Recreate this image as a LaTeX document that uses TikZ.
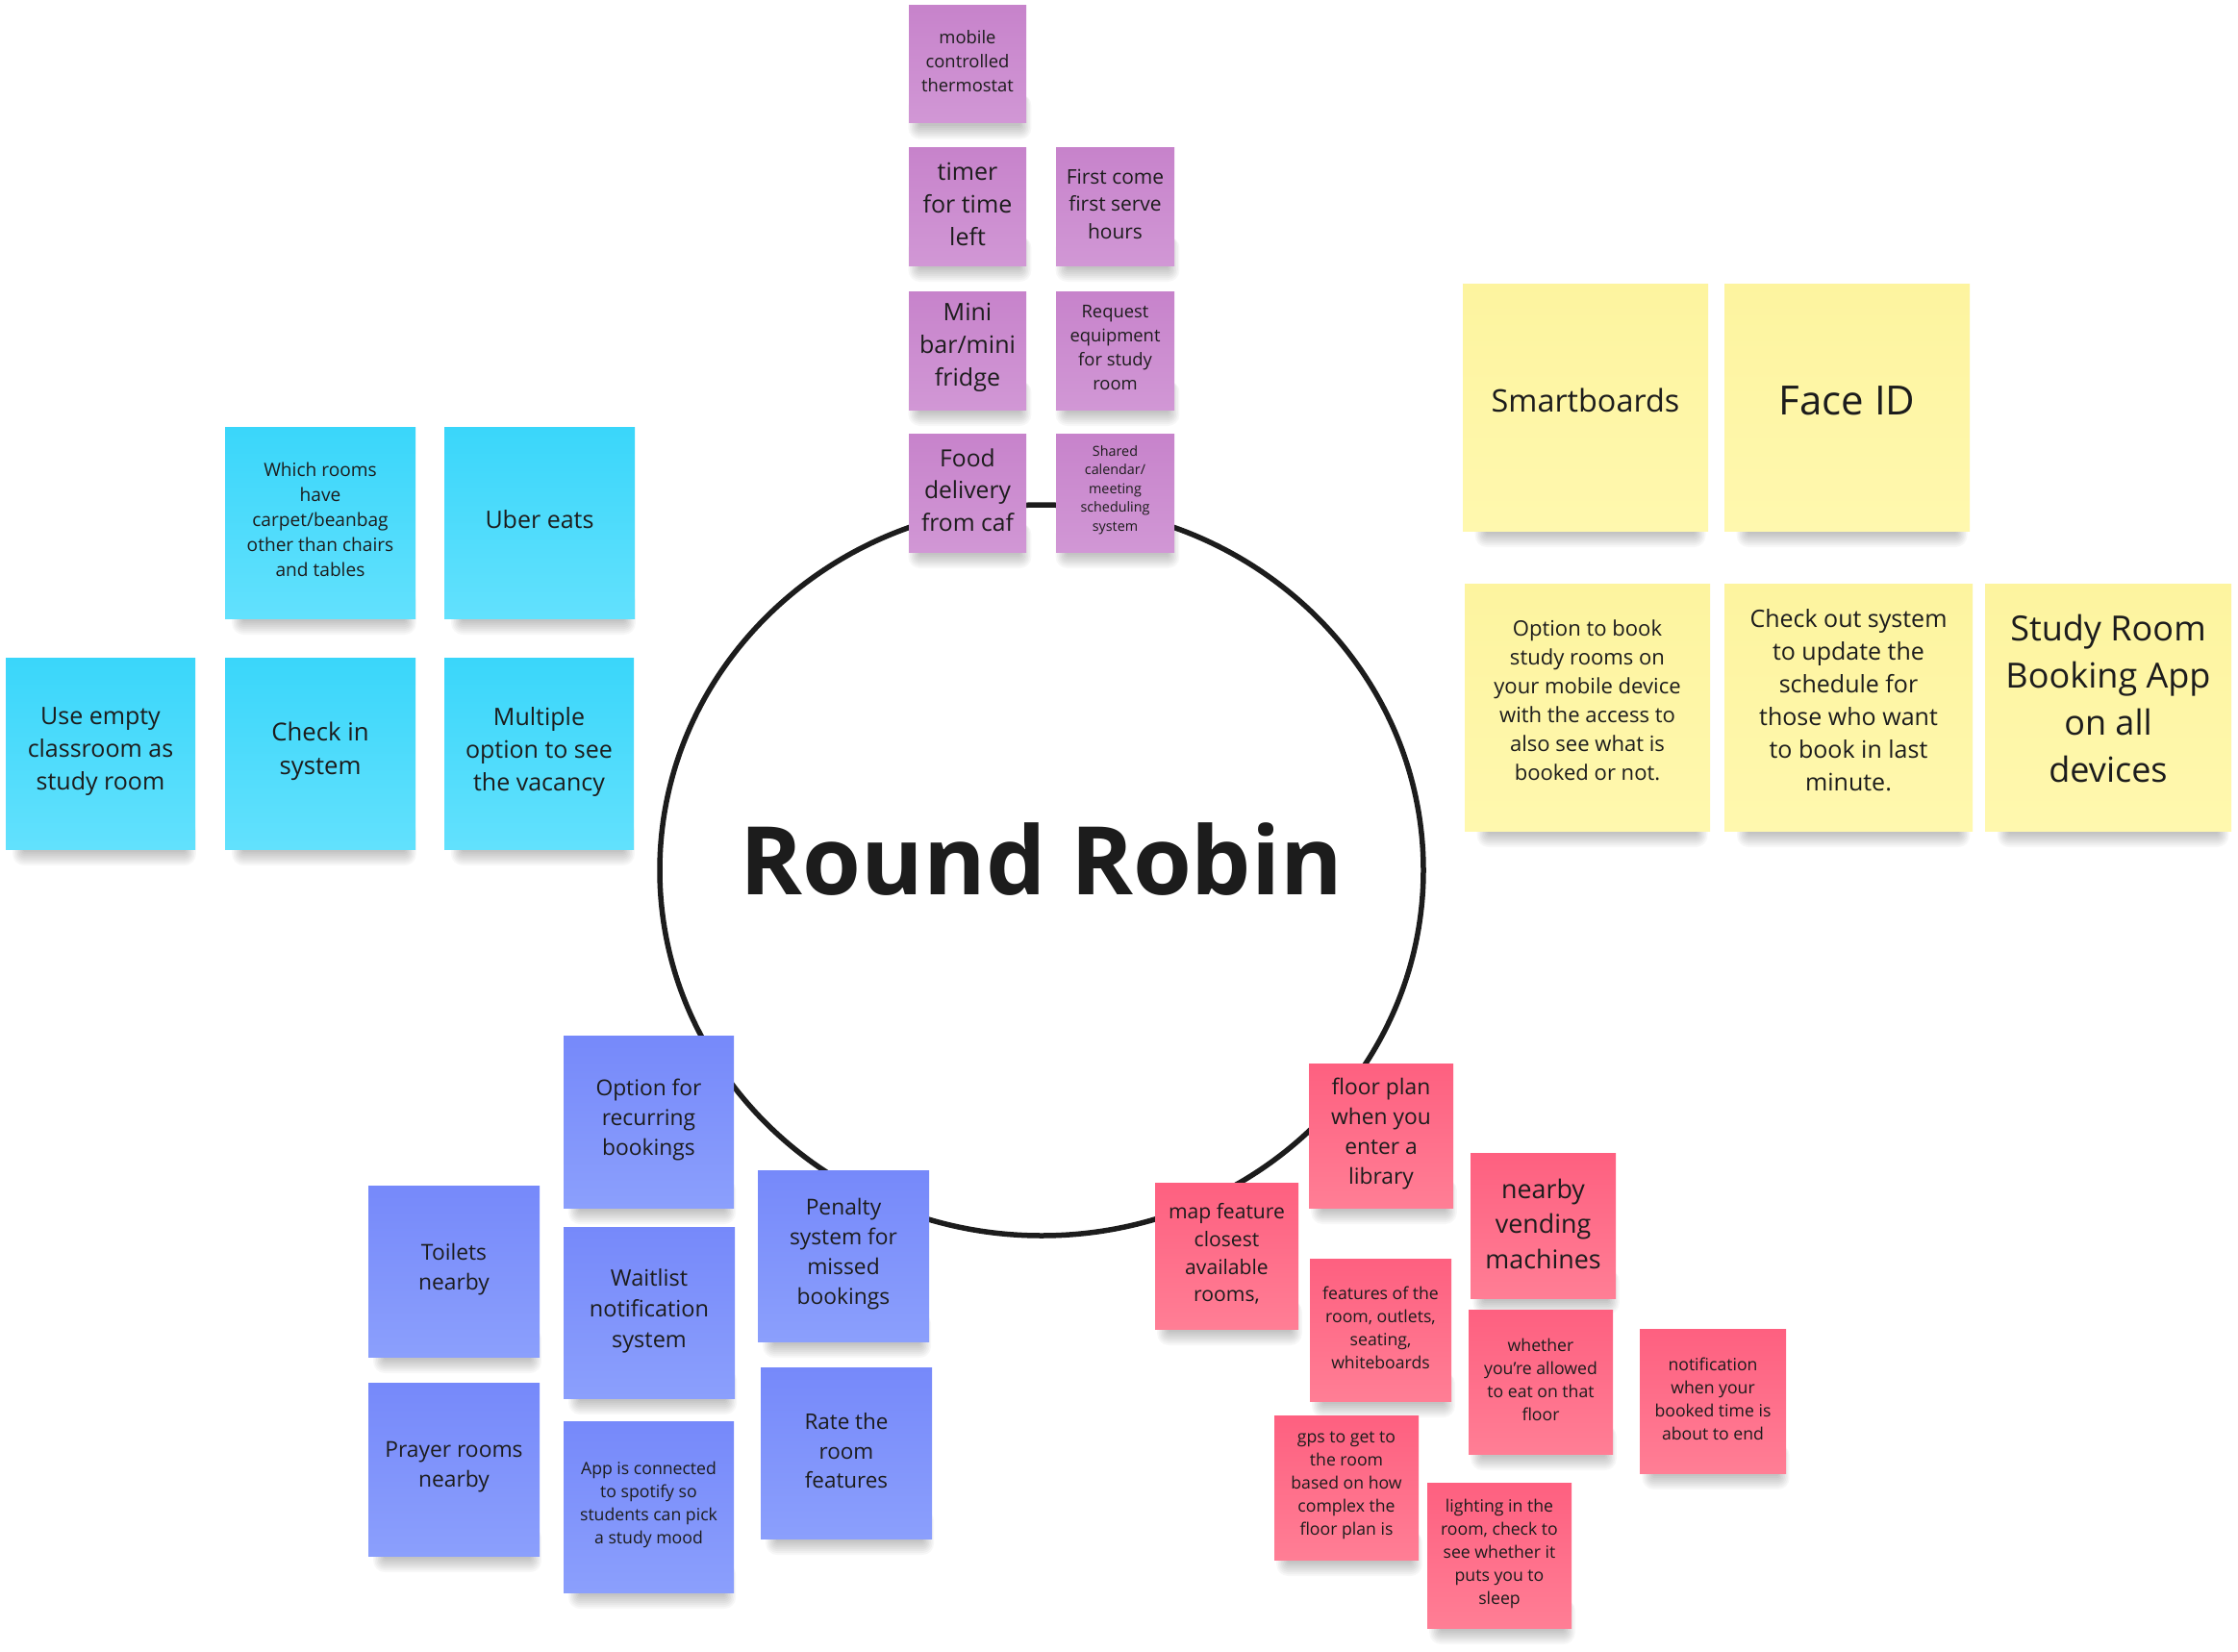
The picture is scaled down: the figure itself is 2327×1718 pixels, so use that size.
\documentclass[tikz,border=0pt]{standalone}
\usepackage{fontspec}
\setmainfont{Open Sans}
\usetikzlibrary{shapes.geometric}
\definecolor{ink}{HTML}{1C1C1C}
\definecolor{purpT}{HTML}{C783CB}
\definecolor{purpB}{HTML}{D197D5}
\definecolor{cyanT}{HTML}{3AD6FA}
\definecolor{cyanB}{HTML}{62E1FD}
\definecolor{yelT}{HTML}{FDF49F}
\definecolor{yelB}{HTML}{FFF8AE}
\definecolor{bluT}{HTML}{7689FA}
\definecolor{bluB}{HTML}{8B9FFC}
\definecolor{pinkT}{HTML}{FE6080}
\definecolor{pinkB}{HTML}{FF7E95}
\tikzset{
  note/.style={rectangle, inner sep=0pt, draw=none},
  pnote/.style={note, top color=purpT, bottom color=purpB},
  cnote/.style={note, top color=cyanT, bottom color=cyanB},
  ynote/.style={note, top color=yelT, bottom color=yelB},
  bnote/.style={note, top color=bluT, bottom color=bluB},
  rnote/.style={note, top color=pinkT, bottom color=pinkB},
  shadowlayer/.style={fill=black, opacity=0.032},
  ntext/.style={align=center, text=ink, inner sep=0pt},
  ring/.style={draw=ink, line width=5.5pt, ellipse, inner sep=0pt},
  titletext/.style={text=ink, inner sep=0pt, anchor=base}
}
\def\stkshift{2}
% #1 name, #2 style, #3 x1, #4 y1, #5 x2, #6 y2, #7 line spacing, #8 text
\newcommand\sticky[8]{%
  \pgfmathsetmacro\stkfs{#7/1.36}%
  \foreach \k in {1,...,8}{%
    \fill[shadowlayer, rounded corners={\k*1.5pt}]
      ({#3+0.1*(#5-#3)-\k*1.6},{#6-30}) rectangle ({#5-0.06*(#5-#3)+\k*1.6},{#6+1+\k*2});
  }%
  \node[#2, minimum width={#5-#3}, minimum height={#6-#4}] (#1) at ({(#3+#5)/2},{(#4+#6)/2}) {};
  \node[ntext, font=\fontsize{\stkfs pt}{#7pt}\selectfont] (#1t) at ([yshift=\stkshift pt]#1.center) {#8};
}
\begin{document}
\begin{tikzpicture}[x=1pt,y=-1pt]
\useasboundingbox[fill=white] (0,0) rectangle (2327,1718);
% central ring and title
\node[ring, minimum width=794pt, minimum height=760pt] (rr) at (1083,905) {};
\node[titletext, font=\fontsize{98.5pt}{110pt}\selectfont\bfseries] (title) at (1083,930) {Round Robin};
% purple
\def\stkshift{3}
\sticky{pm}{pnote}{945}{6}{1067}{128}{25}{mobile\\controlled\\thermostat}
\sticky{pt}{pnote}{945}{154}{1067}{276}{34}{timer\\for time\\left}
\sticky{pf}{pnote}{1098}{154}{1221}{276}{28.5}{First come\\first serve\\hours}
\sticky{pmb}{pnote}{945}{303}{1067}{426}{34}{Mini\\bar/mini\\fridge}
\sticky{pr}{pnote}{1098}{303}{1221}{426}{25}{Request\\equipment\\for study\\room}
\sticky{pfd}{pnote}{945}{451}{1067}{574}{33.5}{Food\\delivery\\from caf}
\sticky{ps}{pnote}{1098}{451}{1221}{574}{19.5}{Shared\\calendar/\\meeting\\scheduling\\system}
% cyan
\def\stkshift{3}
\sticky{cw}{cnote}{234}{444}{432}{643}{26}{Which rooms\\have\\carpet/beanbag\\other than chairs\\and tables}
\sticky{cu}{cnote}{462}{444}{660}{643}{34}{Uber eats}
\def\stkshift{2}
\sticky{ce}{cnote}{6}{684}{203}{883}{34}{Use empty\\classroom as\\study room}
\sticky{cc}{cnote}{234}{684}{432}{883}{35}{Check in\\system}
\sticky{cm}{cnote}{462}{684}{659}{883}{34}{Multiple\\option to see\\the vacancy}
% yellow
\def\stkshift{7}
\sticky{ys}{ynote}{1521}{295}{1776}{552}{44}{Smartboards}
\sticky{yf}{ynote}{1793}{295}{2048}{552}{57}{Face ID}
\sticky{yo}{ynote}{1523}{607}{1778}{864}{30}{Option to book\\study rooms on\\your mobile device\\with the access to\\also see what is\\booked or not.}
\sticky{yc}{ynote}{1793}{607}{2051}{864}{34}{Check out system\\to update the\\schedule for\\those who want\\to book in last\\minute.}
\def\stkshift{9}
\sticky{yst}{ynote}{2064}{607}{2320}{864}{49}{Study Room\\Booking App\\on all\\devices}
% blue
\def\stkshift{2}
\sticky{bo}{bnote}{586}{1077}{763}{1256}{31}{Option for\\recurring\\bookings}
\sticky{bt}{bnote}{383}{1233}{561}{1411}{31}{Toilets\\nearby}
\sticky{bw}{bnote}{586}{1276}{764}{1454}{32}{Waitlist\\notification\\system}
\sticky{bp}{bnote}{788}{1217}{966}{1395}{31}{Penalty\\system for\\missed\\bookings}
\sticky{bpr}{bnote}{383}{1438}{561}{1618}{31}{Prayer rooms\\nearby}
\sticky{ba}{bnote}{586}{1478}{763}{1656}{24}{App is connected\\to spotify so\\students can pick\\a study mood}
\sticky{br}{bnote}{791}{1422}{969}{1600}{30.5}{Rate the\\room\\features}
% pink
\sticky{rf}{rnote}{1361}{1106}{1511}{1256}{31}{floor plan\\when you\\enter a\\library}
\sticky{rm}{rnote}{1201}{1230}{1350}{1382}{28.7}{map feature\\closest\\available\\rooms,}
\sticky{rn}{rnote}{1529}{1199}{1680}{1350}{36.5}{nearby\\vending\\machines}
\sticky{rfe}{rnote}{1362}{1309}{1509}{1457}{24}{features of the\\room, outlets,\\seating,\\whiteboards}
\sticky{rw}{rnote}{1527}{1362}{1677}{1512}{24}{whether\\you're allowed\\to eat on that\\floor}
\sticky{rno}{rnote}{1705}{1382}{1857}{1532}{24}{notification\\when your\\booked time is\\about to end}
\sticky{rg}{rnote}{1325}{1472}{1475}{1622}{24}{gps to get to\\the room\\based on how\\complex the\\floor plan is}
\sticky{rl}{rnote}{1484}{1542}{1634}{1693}{24}{lighting in the\\room, check to\\see whether it\\puts you to\\sleep}
\end{tikzpicture}
\end{document}
